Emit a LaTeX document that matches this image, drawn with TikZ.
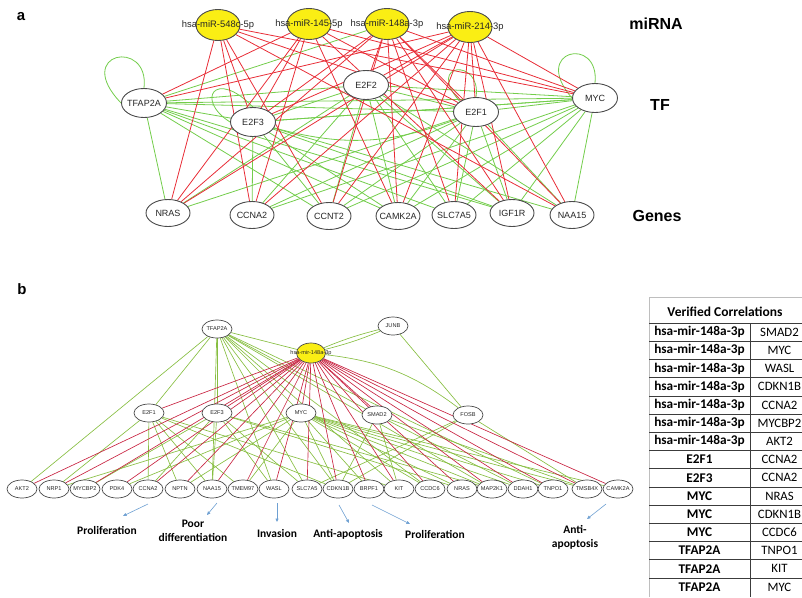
\documentclass[tikz,border=0pt]{standalone}
\usepackage{fontspec}
\setmainfont{Liberation Sans}
\newfontfamily\calfont{Carlito}
\usetikzlibrary{shapes.geometric,arrows.meta,backgrounds}
\definecolor{ared}{RGB}{232,45,55}
\definecolor{agreen}{RGB}{115,205,75}
\definecolor{bred}{RGB}{200,35,65}
\definecolor{bgreen}{RGB}{135,190,65}
\definecolor{yel}{RGB}{250,238,20}
\definecolor{ndraw}{RGB}{75,75,75}
\definecolor{arrc}{RGB}{110,160,210}
\definecolor{tgrid}{RGB}{60,60,60}
\definecolor{tout}{RGB}{190,190,190}
\newcommand\mknode[5]{\node[#1] (#2) at (#3) {}; \node[#4] (#2t) at (#2) {#5};}
\begin{document}
\begin{tikzpicture}[x=1pt,y=-1pt,
  ell/.style={draw=ndraw, line width=0.9pt, ellipse, fill=white, inner sep=0pt},
  tfa/.style={ell, minimum width=45pt, minimum height=29pt},
  gna/.style={ell, minimum width=44pt, minimum height=27pt},
  mia/.style={ell, fill=yel, minimum width=44pt, minimum height=31pt},
  ta/.style={font=\fontsize{9}{10}\selectfont, text=black!85, inner sep=0pt},
  tm/.style={font=\fontsize{9.4}{10}\selectfont, text=black!85, inner sep=0pt},
  gnb/.style={ell, line width=0.7pt, minimum width=30pt, minimum height=18pt},
  mib/.style={ell, line width=0.7pt, fill=yel, minimum width=29pt, minimum height=20pt},
  tb/.style={font=\fontsize{5.6}{6}\selectfont, text=black!85, inner sep=0pt},
  side/.style={font=\fontsize{16}{18}\bfseries\selectfont},
  panel/.style={font=\fontsize{15}{17}\bfseries\selectfont},
  lab/.style={font=\calfont\fontsize{11.5}{14}\bfseries\selectfont, align=center, inner sep=0pt},
  tabh/.style={font=\calfont\fontsize{13.5}{15}\bfseries\selectfont, inner sep=0pt},
  tabl/.style={font=\calfont\fontsize{13.3}{15}\bfseries\selectfont, inner sep=0pt},
  tabr/.style={font=\calfont\fontsize{12.8}{15}\selectfont, inner sep=0pt},
  ra/.style={draw=ared, line width=0.8pt},
  ga/.style={draw=agreen, line width=0.8pt},
  rb/.style={draw=bred, line width=0.65pt},
  gb/.style={draw=bgreen, line width=0.65pt},
  arr/.style={draw=arrc, line width=0.6pt, -{Triangle[length=3.5pt,width=3pt]}}
]
\useasboundingbox (0,0) rectangle (802,597);

% ---------------- panel a ----------------
\node[panel] (pa) at (21,17) {a};
\node[side] (smi) at (656,24) {miRNA};
\node[side] (stf) at (660,105) {TF};
\node[side] (sge) at (657,216) {Genes};

\mknode{mia}{a548}{218,25}{tm}{hsa-miR-548c-5p}
\mknode{mia}{a145}{309,24}{tm}{hsa-miR-145-5p}
\mknode{mia}{a148}{387,24}{tm}{hsa-miR-148a-3p}
\mknode{mia}{a214}{470,27}{tm}{hsa-miR-214-3p}
\mknode{tfa}{aTF}{144,103}{ta}{TFAP2A}
\mknode{tfa}{aE3}{253,122}{ta}{E2F3}
\mknode{tfa}{aE2}{366,85}{ta}{E2F2}
\mknode{tfa}{aE1}{476,112}{ta}{E2F1}
\mknode{tfa}{aMYC}{595,98}{ta}{MYC}
\mknode{gna}{aNRAS}{168,213}{ta}{NRAS}
\mknode{gna}{aCCNA2}{252,215}{ta}{CCNA2}
\mknode{gna}{aCCNT2}{329,216}{ta}{CCNT2}
\mknode{gna}{aCAMK}{398,216}{ta}{CAMK2A}
\mknode{gna}{aSLC}{454,215}{ta}{SLC7A5}
\mknode{gna}{aIGF}{512,213}{ta}{IGF1R}
\mknode{gna}{aNAA}{572,215}{ta}{NAA15}

\begin{scope}[on background layer]
\foreach \s/\t in {aTF/aNRAS, aTF/aE2, aTF/aE1, aTF/aMYC, aTF/aE3, aTF/aCCNT2, aTF/aCAMK, aTF/aSLC, aTF/aIGF,
  aE3/aCCNA2, aE3/aMYC, aE3/aCCNT2, aE3/aCAMK, aE3/aIGF, aE3/aNAA, aE3/aE2,
  aE2/aCCNA2, aE2/aCCNT2, aE2/aCAMK, aE2/aSLC, aE2/aIGF, aE2/aNAA, aE2/aE1, aE2/aMYC, aE2/aNRAS,
  aE1/aNRAS, aE1/aCCNA2, aE1/aCCNT2, aE1/aCAMK, aE1/aSLC, aE1/aIGF, aE1/aNAA, aE1/aMYC,
  aMYC/aE3, aMYC/aCCNA2, aMYC/aCCNT2, aMYC/aCAMK, aMYC/aSLC, aMYC/aIGF, aMYC/aNAA, a148/aTF}
  \draw[ga] (\s) -- (\t);
\draw[ga] (aE3) to[bend right=18] (aE1);
\draw[ga] (aTF.north) .. controls (150,38) and (72,52) .. (aTF.west);
\draw[ga] (aMYC.north) .. controls (600,35) and (530,50) .. (aMYC.west);
\draw[ga] (aE1.north) .. controls (482,58) and (425,62) .. (aE1.north west);
\draw[ga] (aE3.west) .. controls (195,100) and (215,68) .. (aE3.north);
\foreach \s/\t in {a548/aNRAS, a548/aE3, a548/aCCNA2, a548/aCCNT2, a548/aE1, a548/aMYC, a548/aNAA,
  a145/aE3, a145/aCCNA2, a145/aNRAS, a145/aE1, a145/aMYC, a145/aCAMK, a145/aIGF, a145/aTF,
  a148/aE3, a148/aNRAS, a148/aCCNT2, a148/aCAMK, a148/aSLC, a148/aIGF, a148/aNAA, a148/aE1, a148/aMYC, a148/aE2,
  a214/aTF, a214/aE3, a214/aE2, a214/aE1, a214/aMYC, a214/aNRAS, a214/aCCNA2, a214/aCCNT2, a214/aCAMK, a214/aSLC, a214/aIGF, a214/aNAA}
  \draw[ra] (\s) -- (\t);
\end{scope}

% ---------------- panel b ----------------
\node[panel] (pb) at (22,289) {b};
\mknode{gnb}{bTF}{217,329}{tb}{TFAP2A}
\mknode{mib}{bmir}{311,353}{tb}{hsa-mir-148a-3p}
\mknode{gnb}{bJUNB}{393,326}{tb}{JUNB}
\mknode{gnb}{bE1}{149,413}{tb}{E2F1}
\mknode{gnb}{bE3}{217,413}{tb}{E2F3}
\mknode{gnb}{bMYC}{301,413}{tb}{MYC}
\mknode{gnb}{bSMAD}{377,415}{tb}{SMAD2}
\mknode{gnb}{bFOSB}{468,415}{tb}{FOSB}
\foreach \n/\x in {AKT2/22, NRP1/54, MYCBP2/85, PDK4/117, CCNA2/148, NPTN/180, NAA15/212, TMEM97/243,
  WASL/274, SLC7A5/307, CDKN1B/338, BRPF1/369, KIT/399, CCDC6/430, NRAS/462, MAP2K1/492,
  DDAH1/523, TNPO1/553, TMSB4X/587, CAMK2A/618}
  {\mknode{gnb}{b\n}{\x,489}{tb}{\n}}

\begin{scope}[on background layer]
\foreach \s/\t in {bTF/bmir, bTF/bE1, bTF/bE3, bTF/bMYC, bTF/bAKT2, bTF/bNAA15, bTF/bSLC7A5, bTF/bCDKN1B,
  bTF/bKIT, bTF/bTNPO1, bTF/bCCDC6, bTF/bSMAD, bTF/bWASL, bTF/bMAP2K1,
  bJUNB/bFOSB,
  bE1/bCCNA2, bE1/bNPTN, bE1/bNAA15, bE1/bTMEM97, bE1/bCDKN1B, bE1/bNRP1, bE1/bKIT,
  bE3/bCCNA2, bE3/bNAA15, bE3/bWASL, bE3/bSLC7A5, bE3/bMAP2K1, bE3/bNRAS, bE3/bMYCBP2,
  bMYC/bNRAS, bMYC/bCDKN1B, bMYC/bCCDC6, bMYC/bPDK4, bMYC/bNPTN, bMYC/bTMEM97, bMYC/bBRPF1,
  bMYC/bDDAH1, bMYC/bTNPO1, bMYC/bTMSB4X, bMYC/bCAMK2A, bMYC/bMAP2K1, bMYC/bNRP1,
  bSMAD/bCDKN1B, bSMAD/bTMSB4X, bSMAD/bDDAH1, bSMAD/bKIT,
  bFOSB/bSLC7A5, bFOSB/bCDKN1B, bFOSB/bTMSB4X}
  \draw[gb] (\s) -- (\t);
\draw[gb] (bJUNB) to[bend left=4] (bmir);
\draw[gb] (bJUNB) to[bend right=4] (bmir);
\draw[gb] (bmir) to[bend left=15] (bFOSB);
\foreach \t in {bE1, bE3, bMYC, bSMAD, bAKT2, bNRP1, bMYCBP2, bPDK4, bCCNA2, bNPTN, bNAA15, bTMEM97,
  bWASL, bSLC7A5, bCDKN1B, bBRPF1, bKIT, bCCDC6, bNRAS, bMAP2K1, bDDAH1, bTNPO1, bTMSB4X, bCAMK2A}
  \draw[rb] (bmir) -- (\t);
\end{scope}

% arrows and labels
\coordinate (p1s) at (148,504); \coordinate (p1e) at (123,516);
\coordinate (p2s) at (217,503); \coordinate (p2e) at (207,515);
\coordinate (p3s) at (277,503); \coordinate (p3e) at (277,522);
\coordinate (p4s) at (339,505); \coordinate (p4e) at (349,523);
\coordinate (p5s) at (372,505); \coordinate (p5e) at (410,524);
\coordinate (p6s) at (606,504); \coordinate (p6e) at (587,519);
\foreach \i in {1,...,6} \draw[arr] (p\i s) -- (p\i e);
\node[lab] (l1) at (107,530) {Proliferation};
\node[lab] (l2) at (193,531) {Poor\\differentiation};
\node[lab] (l3) at (277,533) {Invasion};
\node[lab] (l4) at (348,534) {Anti-apoptosis};
\node[lab] (l5) at (435,534) {Proliferation};
\node[lab] (l6) at (575,537) {Anti-\\apoptosis};

% ---------------- table ----------------
\draw[tout, line width=0.8pt] (649,597) -- (649,297) -- (802,297);
\draw[tgrid, line width=0.5pt] (649,323) -- (802,323);
\foreach \k in {1,...,14} \draw[tgrid, line width=0.5pt] (649,323+\k*18.2) -- (802,323+\k*18.2);
\draw[tgrid, line width=0.5pt] (750,323) -- (750,597);
\node[tabh] (th) at (725,312) {Verified Correlations};
\foreach \l/\r [count=\k from 0] in {hsa-mir-148a-3p/SMAD2, hsa-mir-148a-3p/MYC, hsa-mir-148a-3p/WASL,
  hsa-mir-148a-3p/CDKN1B, hsa-mir-148a-3p/CCNA2, hsa-mir-148a-3p/MYCBP2, hsa-mir-148a-3p/AKT2,
  E2F1/CCNA2, E2F3/CCNA2, MYC/NRAS, MYC/CDKN1B, MYC/CCDC6, TFAP2A/TNPO1, TFAP2A/KIT, TFAP2A/MYC}
  {\node[tabl] (tl\k) at (699.5,332.1+\k*18.2) {\l};
   \node[tabr] (tr\k) at (779.5,332.1+\k*18.2) {\r};}
\end{tikzpicture}
\end{document}
